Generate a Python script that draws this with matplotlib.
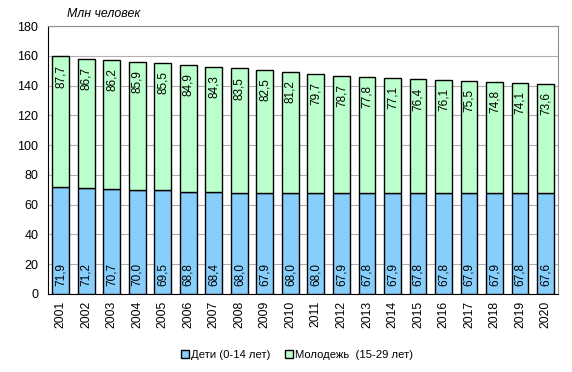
import matplotlib
matplotlib.use("Agg")
import matplotlib.pyplot as plt
import numpy as np
from matplotlib.patches import Patch

plt.rcParams["font.family"] = ["Liberation Sans", "DejaVu Sans"]

years = [str(y) for y in range(2001, 2021)]
children = [71.9, 71.2, 70.7, 70.0, 69.5, 68.8, 68.4, 68.0, 67.9, 68.0,
            68.0, 67.9, 67.8, 67.9, 67.8, 67.8, 67.9, 67.9, 67.8, 67.6]
youth = [87.7, 86.7, 86.2, 85.9, 85.5, 84.9, 84.3, 83.5, 82.5, 81.2,
         79.7, 78.7, 77.8, 77.1, 76.4, 76.1, 75.5, 74.8, 74.1, 73.6]
labels = ["Дети (0-14 лет)", "Молодежь  (15-29 лет)"]

blue = "#87CEFA"
green = "#BBFFCC"


def fmt(v):
    return f"{v:.1f}".replace(".", ",")


fig = plt.figure(figsize=(5.72, 3.72), dpi=100)
ax = fig.add_axes([0.084, 0.21, 0.892, 0.72])

x = np.arange(len(years))
w = 0.66
ax.bar(x, children, w, color=blue, edgecolor="black", linewidth=1, zorder=3)
ax.bar(x, youth, w, bottom=children, color=green, edgecolor="black",
       linewidth=1, zorder=3)

for i in range(len(years)):
    ax.text(x[i], 5.5, fmt(children[i]), rotation=90, ha="center",
            va="bottom", fontsize=8.5, zorder=4)
    ax.text(x[i], children[i] + youth[i] - 5.5, fmt(youth[i]), rotation=90,
            ha="center", va="top", fontsize=8.5, zorder=4)

ax.set_xlim(-0.5, len(years) - 0.5)
ax.set_ylim(0, 180)
ax.set_yticks(range(0, 181, 20))
ax.set_xticks(x)
ax.set_xticklabels(years, rotation=90, fontsize=8.8)
ax.tick_params(axis="y", labelsize=9, length=0, pad=7)
ax.tick_params(axis="x", length=0, pad=5)
ax.grid(axis="y", color="#b0b0b0", linewidth=0.8, zorder=0)

for side in ["top", "right"]:
    ax.spines[side].set_color("#909090")
ax.spines["left"].set_color("black")
ax.spines["bottom"].set_color("black")

fig.text(0.118, 0.962, "Млн человек", style="italic", fontsize=8.9,
         ha="left", va="center")

handles = [Patch(facecolor=blue, edgecolor="black"),
           Patch(facecolor=green, edgecolor="black")]
fig.legend(handles, labels, loc="center", bbox_to_anchor=(0.519, 0.046),
           ncol=2, frameon=False, fontsize=8.1, handlelength=0.7,
           handleheight=0.7, handletextpad=0.2, columnspacing=1.3)

fig.savefig("out.png", dpi=100)
